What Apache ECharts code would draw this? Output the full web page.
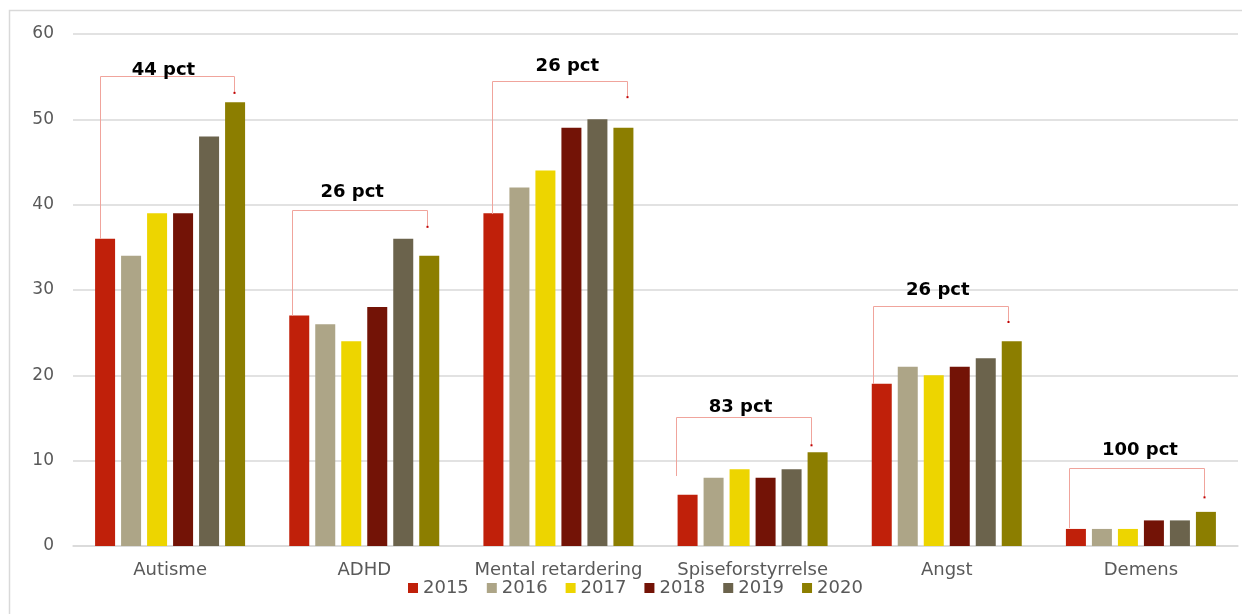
<!DOCTYPE html>
<html><head><meta charset="utf-8">
<script src="https://cdn.jsdelivr.net/npm/echarts@6/dist/echarts.min.js"></script>
<style>html,body{margin:0;padding:0;background:#fff}#c{width:1242px;height:614px}</style>
</head><body><div id="c"></div>
<script>
const categories = ['Autisme','ADHD','Mental retardering','Spiseforstyrrelse','Angst','Demens'];
const years = ['2015','2016','2017','2018','2019','2020'];
const v2015 = [36,27,39,6,19,2];
const v2016 = [34,26,42,8,21,2];
const v2017 = [39,24,44,9,20,2];
const v2018 = [39,28,49,8,21,3];
const v2019 = [48,36,50,9,22,3];
const v2020 = [52,34,49,11,24,4];
const yTicks = [0,10,20,30,40,50,60];
// bracket annotations (value levels): top line, left end, right end, label level, label text
const bracketTop   = [55.1,39.4,54.5,15.1,28.1,9.1];
const bracketLeft  = [36,27,38.9,8.2,19,2.1];
const bracketRight = [53.1,37.4,52.6,11.8,26.25,5.7];
const labelLevel   = [55.8,41.4,56.25,16.2,30.0,11.25];
const bracketLabel = ['44 pct','26 pct','26 pct','83 pct','26 pct','100 pct'];

// layout (fractions of category band) for the annotation shapes
const LAYOUT = {
  left:  [-0.362,-0.373,-0.342,-0.392,-0.378,-0.370],
  right: [0.331,0.323,0.354,0.303,0.314,0.326],
  label: [-0.034,-0.062,0.046,-0.062,-0.046,-0.005]
};
const colors = ['#C0200A','#ADA587','#EDD500','#731306','#6B634C','#8C7E00'];
const values = [v2015,v2016,v2017,v2018,v2019,v2020];
const FONT = 'DejaVu Sans';

const chart = echarts.init(document.getElementById('c'));
const series = years.map((y,i)=>({
  name:y, type:'bar', data:values[i], barWidth:20, barGap:'30%',
  itemStyle:{color:colors[i]}
}));
const bracketData = categories.map((c,i)=>[i,bracketTop[i],bracketLeft[i],bracketRight[i],labelLevel[i],bracketLabel[i]]);
series.push({
  type:'custom', name:'brackets', data:bracketData, z:10,
  renderItem:function(params, api){
    const idx = api.value(0);
    const ct = api.coord([idx, api.value(1)]);
    const cl = api.coord([idx, api.value(2)]);
    const cr = api.coord([idx, api.value(3)]);
    const lb = api.coord([idx, api.value(4)]);
    const bw = api.size([1,0])[0];
    const xl = Math.round(ct[0] + LAYOUT.left[idx]*bw)+0.5;
    const xr = Math.round(ct[0] + LAYOUT.right[idx]*bw)+0.5;
    const yt = Math.round(ct[1])+0.5;
    return {type:'group', children:[
      {type:'polyline', shape:{points:[[xl,cl[1]],[xl,yt],[xr,yt],[xr,cr[1]]]},
       style:{stroke:'#F0A49C', lineWidth:1, fill:null}},
      {type:'rect', shape:{x:xr-1,y:cr[1]-1,width:2,height:2}, style:{fill:'#C00000'}},
      {type:'text', x:ct[0] + LAYOUT.label[idx]*bw, y:lb[1], z2:5,
       style:{text:api.value(5), fill:'#000', font:'bold 18px "DejaVu Sans"', align:'center', verticalAlign:'middle'}}
    ]};
  }
});

chart.setOption({
  animation:false,
  textStyle:{fontFamily:FONT},
  graphic:[{type:'rect', shape:{x:9.5,y:10.5,width:1250,height:620}, style:{fill:null, stroke:'#D9D9D9', lineWidth:1.5}, silent:true}],
  legend:{data:years, top:574, left:403, icon:'rect', itemWidth:10, itemHeight:10, itemGap:18,
    textStyle:{fontSize:18, color:'#595959', fontFamily:FONT}},
  grid:{left:73, right:4, top:34, bottom:68, containLabel:false},
  xAxis:{type:'category', data:categories,
    axisLine:{lineStyle:{color:'#D9D9D9', width:1.5}}, axisTick:{show:false},
    axisLabel:{fontSize:18, color:'#595959', margin:15, fontFamily:FONT, interval:0}},
  yAxis:{type:'value', min:0, max:60, interval:10,
    axisLine:{show:false}, axisTick:{show:false},
    splitLine:{lineStyle:{color:'#D9D9D9', width:1.5}},
    axisLabel:{fontSize:17, color:'#595959', margin:19, fontFamily:FONT}},
  series:series
});
</script></body></html>
